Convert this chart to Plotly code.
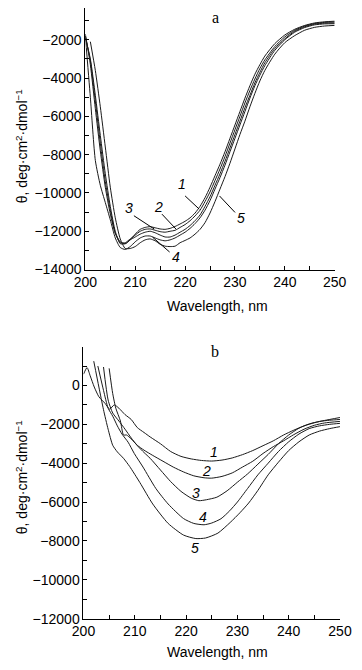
import plotly.graph_objects as go

# ---------------- Panel a (top) ----------------
wl_a = [200, 201, 202, 203, 204, 205, 206, 207, 208, 209, 210, 211, 212, 213, 214, 215, 216, 217, 218, 219,
        220, 221, 222, 223, 224, 225, 226, 227, 228, 229, 230, 231, 232, 233, 234, 235, 236,
        238, 240, 242, 244, 246, 248, 250]

a1 = [-1700, -3300, -5600, -7800, -9700, -11100, -12100, -12550, -12650, -12450, -12150, -11900, -11800, -11760,
      -11820, -11880, -11900, -11850, -11750, -11620, -11480, -11300, -11050, -10700, -10250, -9700, -9100, -8500,
      -7850, -7150, -6450, -5750, -5050, -4400, -3800, -3300, -2850, -2200, -1750, -1450, -1250, -1120, -1060, -1030]
a2 = [-1800, -3100, -5200, -7400, -9400, -10900, -12100, -12600, -12600, -12400, -12200, -12000, -11900, -11880,
      -11950, -12020, -12050, -12000, -11950, -11800, -11650, -11450, -11200, -10900, -10450, -9950, -9350, -8750,
      -8100, -7400, -6700, -6000, -5300, -4650, -4050, -3500, -3050, -2350, -1850, -1500, -1280, -1150, -1090, -1070]
a3 = [-1900, -3000, -4900, -7000, -9000, -10700, -12000, -12650, -12650, -12450, -12300, -12150, -12050, -12000,
      -12080, -12200, -12300, -12300, -12200, -12050, -11900, -11700, -11450, -11150, -10700, -10200, -9600, -9000,
      -8350, -7650, -6950, -6250, -5550, -4900, -4250, -3700, -3200, -2450, -1950, -1550, -1320, -1180, -1130, -1120]
a4 = [-1800, -5000, -8300, -9600, -10500, -11400, -12350, -12850, -12950, -12800, -12550, -12350, -12250, -12250,
      -12350, -12450, -12500, -12450, -12350, -12200, -12050, -11850, -11600, -11300, -10900, -10400, -9800, -9200,
      -8550, -7850, -7150, -6450, -5750, -5050, -4400, -3850, -3350, -2550, -2000, -1600, -1360, -1220, -1170, -1160]
a5 = [None, -2100, -3600, -5500, -7600, -9700, -11300, -12400, -12900, -12900, -12800, -12600, -12450, -12400,
      -12500, -12680, -12780, -12800, -12780, -12600, -12480, -12350, -12150, -11900, -11550, -11050, -10450, -9800,
      -9150, -8450, -7700, -6950, -6250, -5500, -4800, -4150, -3600, -2750, -2150, -1780, -1500, -1350, -1280, -1250]

# ---------------- Panel b (bottom) ----------------
b1_x = [200, 200.7, 201.3, 202.1, 203, 204.2, 205.1, 206, 206.9, 208.1, 209.3, 210.5, 211.8, 213, 215, 217, 219,
        221, 223, 225, 227, 229, 231, 233, 235, 237, 239, 241, 243, 245, 247, 250]
b1_y = [580, 920, 500, -80, -580, -920, -1220, -1000, -1170, -1500, -1750, -2170, -2420, -2650, -3000, -3400, -3650,
        -3780, -3860, -3890, -3840, -3730, -3560, -3350, -3100, -2850, -2550, -2300, -2080, -1920, -1800, -1650]

b2_x = [205, 205.7, 206.3, 207.2, 207.8, 208.4, 209.3, 210.5, 211.8, 213.5, 215.5, 217.5, 219.5, 221.5, 223.5, 225,
        227, 229, 231, 233, 235, 237, 239, 241, 243, 245, 247, 250]
b2_y = [880, -420, -1170, -1830, -2550, -2550, -2750, -3080, -3330, -3600, -3900, -4200, -4450, -4650, -4750, -4770,
        -4680, -4500, -4200, -3900, -3500, -3150, -2850, -2530, -2250, -2050, -1930, -1850]

b3_x = [203.9, 204.8, 205.7, 206.9, 208.1, 209.3, 210.5, 211.8, 213, 215, 217, 219, 221, 222.5, 224, 226, 228, 230,
        232, 234, 236, 238, 240, 242, 244, 246, 248, 250]
b3_y = [950, -750, -1420, -1830, -2250, -2700, -3100, -3450, -3750, -4350, -4950, -5450, -5800, -5930, -5880, -5750,
        -5420, -4980, -4550, -4050, -3550, -3000, -2550, -2200, -1980, -1850, -1790, -1750]

b4_x = [202.8, 203.9, 204.8, 205.7, 206.6, 207.5, 208.7, 209.9, 211.6, 214.1, 216.5, 219.5, 221.5, 223.5, 225, 226.8,
        228.5, 230, 232, 234, 236, 238, 240, 242, 244, 246, 248, 250]
b4_y = [1000, -250, -1170, -1580, -2080, -2500, -2920, -3500, -4200, -5300, -6100, -6850, -7100, -7170, -7080, -6860,
        -6450, -6000, -5300, -4600, -4000, -3400, -2900, -2500, -2220, -2080, -2000, -1950]

b5_x = [202, 203, 203.9, 204.8, 205.7, 206.6, 207.8, 209, 211, 213.5, 216.5, 219.5, 221.9, 223.8, 226.2, 228.6,
        230.5, 232.2, 234, 236, 238, 240, 242, 244, 246, 248, 250]
b5_y = [1250, -80, -1250, -2250, -3080, -3420, -3750, -4170, -5000, -6100, -7100, -7700, -7880, -7850, -7600, -7050,
        -6550, -6050, -5400, -4600, -3950, -3350, -2900, -2550, -2350, -2220, -2120]

x_ticks = [200, 210, 220, 230, 240, 250]
y_ticks_a = [-14000, -12000, -10000, -8000, -6000, -4000, -2000]
y_ticks_b = [-12000, -10000, -8000, -6000, -4000, -2000, 0]

curve_labels = ["1", "2", "3", "4", "5"]
label_pos_a = [(219.4, -9517), (214.6, -10708), (208.8, -10811), (218.2, -13344), (231.3, -11328)]
leader_a = [((220.0, -10155), (222.85, -10848)), ((215.36, -11106), (218.16, -11881)),
            ((209.74, -11189), (213.8, -11881)), ((216.9, -13085), (213.48, -12310)),
            ((230.02, -11018), (226.9, -10155))]
label_pos_b = [(225.4, -3441), (223.9, -4407), (221.9, -5558), (223.3, -6746), (221.8, -8389)]


def fmt(v):
    return ("\u2212" + str(abs(v))) if v < 0 else str(v)


W, H = 362, 670
OFF = 8  # default page body margin of the written html


def px(X):
    return (X - OFF) / W


def py(Y):
    return 1 - (Y - OFF) / H


fig = go.Figure()
line_style = dict(color="#1a1a1a", width=1)
for ys in [a1, a2, a3, a4, a5]:
    fig.add_trace(go.Scatter(x=wl_a, y=ys, mode="lines", line=dict(**line_style, shape="spline", smoothing=0.6),
                             xaxis="x", yaxis="y", showlegend=False, hoverinfo="skip"))
for xs, ys in [(b1_x, b1_y), (b2_x, b2_y), (b3_x, b3_y), (b4_x, b4_y), (b5_x, b5_y)]:
    fig.add_trace(go.Scatter(x=xs, y=ys, mode="lines", line=dict(**line_style, shape="spline", smoothing=0.6),
                             xaxis="x2", yaxis="y2", showlegend=False, hoverinfo="skip"))

tickfont = dict(family="Liberation Sans, Arial, sans-serif", size=14, color="black")
common_ax = dict(showline=True, linecolor="black", linewidth=1, showgrid=False, zeroline=False,
                 ticks="inside", ticklen=4, tickcolor="black", tickwidth=1, tickfont=tickfont,
                 tickmode="array")
xminor = dict(dtick=5, tick0=200, ticks="inside", ticklen=4, tickcolor="black")
yminor = dict(dtick=1000, tick0=0, ticks="inside", ticklen=4, tickcolor="black")

fig.update_layout(
    width=W, height=H, margin=dict(l=0, r=0, t=0, b=0),
    paper_bgcolor="white", plot_bgcolor="white",
    xaxis=dict(domain=[px(78), px(345)], range=[200, 250], tickvals=x_ticks, ticktext=[fmt(v) for v in x_ticks],
               minor=xminor, anchor="y", **common_ax),
    yaxis=dict(domain=[py(272.7), py(8)], range=[-14000, -340], tickvals=y_ticks_a,
               ticktext=[fmt(v) for v in y_ticks_a], minor=yminor, anchor="x", **common_ax),
    xaxis2=dict(domain=[px(76), px(350.7)], range=[200, 250], tickvals=x_ticks, ticktext=[fmt(v) for v in x_ticks],
                minor=xminor, anchor="y2", **common_ax),
    yaxis2=dict(domain=[py(626), py(350.7)], range=[-12000, 2000], tickvals=y_ticks_b,
                ticktext=[fmt(v) for v in y_ticks_b], minor=yminor, anchor="x2", **common_ax),
)

ann = []
labfont = dict(family="Liberation Sans, Arial, sans-serif", size=14, color="black")
ytitle = "θ, deg·cm<sup>2</sup>·dmol<sup>−1</sup>"
ann.append(dict(text="Wavelength, nm", x=px(220), y=py(310), xref="paper", yref="paper",
                showarrow=False, font=labfont, xanchor="center", yanchor="middle"))
ann.append(dict(text="Wavelength, nm", x=px(220), y=py(660), xref="paper", yref="paper",
                showarrow=False, font=labfont, xanchor="center", yanchor="middle"))
ann.append(dict(text=ytitle, x=px(10), y=py(148), xref="paper", yref="paper", textangle=-90,
                showarrow=False, font=labfont, xanchor="center", yanchor="middle"))
ann.append(dict(text=ytitle, x=px(10), y=py(483), xref="paper", yref="paper", textangle=-90,
                showarrow=False, font=labfont, xanchor="center", yanchor="middle"))
serif = dict(family="Liberation Serif, Times New Roman, serif", size=16, color="black")
ann.append(dict(text="a", x=px(217), y=1, xref="paper", yref="paper", showarrow=False, font=serif,
                xanchor="center", yanchor="top", borderpad=0))
ann.append(dict(text="b", x=px(217), y=py(355.7), xref="paper", yref="paper", showarrow=False, font=serif,
                xanchor="center", yanchor="middle"))
ifont = dict(family="Liberation Sans, Arial, sans-serif", size=14, color="black")
for lab, (lx, ly) in zip(curve_labels, label_pos_a):
    ann.append(dict(text=f"<i>{lab}</i>", x=lx, y=ly, xref="x", yref="y", showarrow=False, font=ifont,
                    xanchor="center", yanchor="middle"))
for lab, (lx, ly) in zip(curve_labels, label_pos_b):
    ann.append(dict(text=f"<i>{lab}</i>", x=lx, y=ly, xref="x2", yref="y2", showarrow=False, font=ifont,
                    xanchor="center", yanchor="middle"))
fig.update_layout(annotations=ann)

shapes = []
for (p0, p1) in leader_a:
    shapes.append(dict(type="line", x0=p0[0], y0=p0[1], x1=p1[0], y1=p1[1], xref="x", yref="y",
                       line=dict(color="black", width=1)))
fig.update_layout(shapes=shapes)

fig.write_html("out.html")
